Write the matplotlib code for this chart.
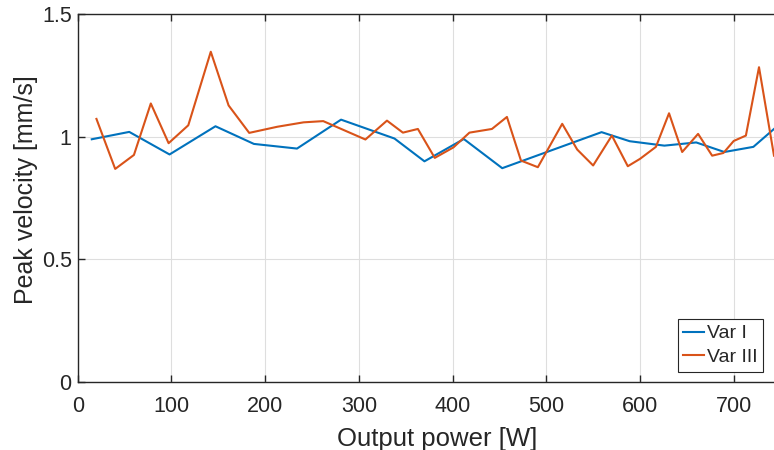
import matplotlib.pyplot as plt
from matplotlib.ticker import FixedLocator

plt.rcParams['font.family'] = ['Liberation Sans', 'DejaVu Sans']

# Peak velocity vs. output power for the two variants
power_var1 = [15, 55, 98, 147, 188, 234, 281, 338, 370, 412, 453, 559,
              589, 626, 660, 690, 721, 743]
vel_var1 = [0.989, 1.019, 0.927, 1.042, 0.970, 0.951, 1.069, 0.992, 0.899,
            0.990, 0.871, 1.018, 0.981, 0.963, 0.976, 0.937, 0.958, 1.031]

power_var3 = [20, 40, 60, 78, 97, 118, 142, 161, 183, 213, 241, 262, 280,
              307, 330, 347, 363, 381, 401, 418, 442, 458, 473, 491, 517,
              533, 550, 570, 587, 600, 617, 631, 645, 662, 677, 689, 700,
              713, 727, 743]
vel_var3 = [1.072, 0.868, 0.925, 1.135, 0.973, 1.046, 1.346, 1.127, 1.015,
            1.040, 1.058, 1.063, 1.033, 0.988, 1.065, 1.016, 1.031, 0.913,
            0.956, 1.016, 1.031, 1.080, 0.902, 0.875, 1.052, 0.947, 0.882,
            1.004, 0.879, 0.909, 0.958, 1.095, 0.937, 1.011, 0.922, 0.933,
            0.982, 1.004, 1.283, 0.922]

x_ticks = [0, 100, 200, 300, 400, 500, 600, 700]
y_ticks = [0, 0.5, 1, 1.5]
y_labels = ['0', '0.5', '1', '1.5']

dark = '#262626'

fig = plt.figure(figsize=(7.74, 4.5), dpi=100)
ax = fig.add_axes([0.1004, 0.1518, 0.8996, 0.8171])

ax.plot(power_var1, vel_var1, color='#0072BD', lw=1.5, label='Var I')
ax.plot(power_var3, vel_var3, color='#D95319', lw=1.5, label='Var III')

ax.set_xlim(0, 743)
ax.set_ylim(0, 1.5)
ax.xaxis.set_major_locator(FixedLocator(x_ticks))
ax.set_yticks(y_ticks, labels=y_labels)

ax.grid(True, color='#dedede', lw=0.8)
ax.set_axisbelow(True)
ax.tick_params(direction='in', length=5, width=1, colors=dark,
               labelsize=15.5, top=True, right=False)
ax.tick_params(axis='x', pad=10)
ax.tick_params(axis='y', pad=4.3)
for side in ['left', 'bottom', 'top']:
    ax.spines[side].set_color(dark)
    ax.spines[side].set_linewidth(1)
ax.spines['right'].set_visible(False)

ax.set_xlabel('Output power [W]', fontsize=18.5, color=dark)
ax.set_ylabel('Peak velocity [mm/s]', fontsize=18, color=dark)
ax.xaxis.set_label_coords(0.516, -0.123)
ax.yaxis.set_label_coords(-0.057, 0.521)

leg = ax.legend(loc='lower right', bbox_to_anchor=(0.9846, 0.027),
                borderaxespad=0, fontsize=14, handlelength=1.05,
                handletextpad=0.15, borderpad=0.3, labelspacing=0.3,
                fancybox=False, framealpha=1, edgecolor=dark)
leg.get_frame().set_linewidth(0.8)
for t in leg.get_texts():
    t.set_color(dark)

fig.savefig('out.png', dpi=100)
